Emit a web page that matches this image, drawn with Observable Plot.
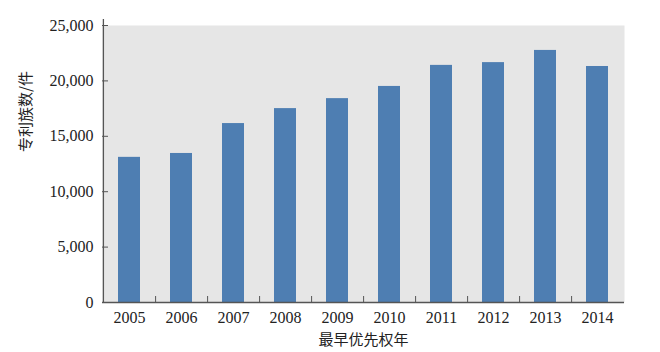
<!DOCTYPE html>
<html>
<head>
<meta charset="utf-8">
<script src="https://cdn.jsdelivr.net/npm/d3@7"></script>
<script src="https://cdn.jsdelivr.net/npm/@observablehq/plot@0.6"></script>
<style>
  html, body { margin: 0; padding: 0; background: #fff; }
</style>
</head>
<body>
<div id="chart"></div>
<script>
const years = ["2005", "2006", "2007", "2008", "2009", "2010", "2011", "2012", "2013", "2014"];
const patents = [13100, 13450, 16150, 17500, 18400, 19500, 21400, 21650, 22750, 21300];
const yTicks = [0, 5000, 10000, 15000, 20000, 25000];
const xTitle = "最早优先权年";
const yTitle = "专利族数/件";

const data = years.map((year, i) => ({year, count: patents[i]}));

const W = 660, H = 352, ML = 102, MR = 36, MT = 25, MB = 50;
const step = (W - ML - MR) / years.length;
const axisColor = "#555";
const yAxisTop = 25540;
const cjk = "'Noto Sans CJK SC', sans-serif";

const chart = Plot.plot({
  width: W,
  height: H,
  marginLeft: ML,
  marginRight: MR,
  marginTop: MT,
  marginBottom: MB,
  style: {fontFamily: "'Liberation Serif', serif", fontSize: "16px", color: "#222", background: "#fff"},
  x: {domain: years, paddingInner: 0.58, paddingOuter: 0.29, axis: null},
  y: {domain: [0, 25000], axis: null},
  marks: [
    Plot.frame({fill: "#e6e6e6", stroke: null}),
    Plot.barY(data, {x: "year", y: "count", fill: "#4e7eb2"}),
    Plot.ruleY([0], {stroke: axisColor, strokeWidth: 1.3}),
    Plot.ruleX([years[0]], {y1: 0, y2: yAxisTop, dx: -step / 2, stroke: axisColor, strokeWidth: 1.3}),
    Plot.axisY({ticks: yTicks, tickSize: 0, tickPadding: 9, tickFormat: d3.format(","), label: null, fill: "#222"}),
    Plot.axisY({ticks: yTicks, tickSize: -6, tickFormat: () => "", label: null, stroke: axisColor}),
    Plot.axisX({tickSize: 0, tickPadding: 9, label: null, fill: "#222"}),
    Plot.axisX({ticks: years.slice(0, -1), tickSize: -6, tickFormat: () => "", label: null, dx: step / 2, stroke: axisColor}),
    Plot.text([xTitle], {frameAnchor: "bottom", dy: 42, fontFamily: cjk, fontSize: 15, letterSpacing: 1, fill: "#222"}),
    Plot.text([yTitle], {frameAnchor: "left", rotate: -90, dx: -76, dy: -12, fontFamily: cjk, fontSize: 15, fill: "#222"})
  ]
});
document.getElementById("chart").appendChild(chart);
</script>
</body>
</html>
